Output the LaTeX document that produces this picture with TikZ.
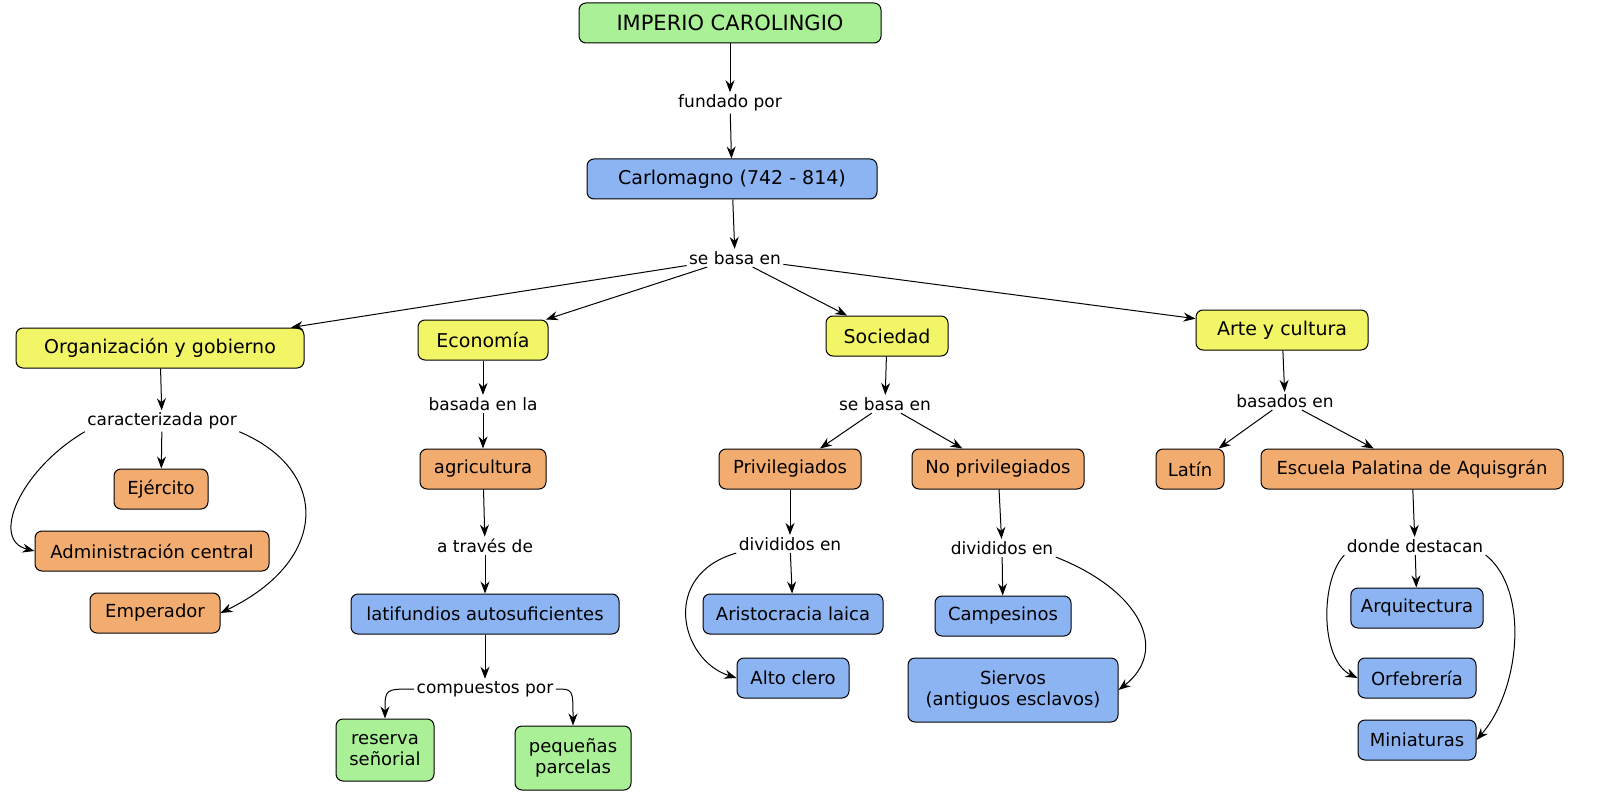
\documentclass[tikz,border=0pt]{standalone}
\usepackage{fontspec}
\setmainfont{DejaVu Sans}
\usetikzlibrary{arrows.meta}
\definecolor{cgreen}{RGB}{170,240,150}
\definecolor{cyellow}{RGB}{242,245,102}
\definecolor{corange}{RGB}{242,172,112}
\definecolor{cblue}{RGB}{140,180,242}
\tikzset{every picture/.style={line width=1pt},
  box/.style={draw, rounded corners=7pt, minimum height=40pt, inner xsep=10pt, font=\fontsize{18}{21}\selectfont, align=center},
  gbox/.style={box, fill=cgreen},
  ybox/.style={box, fill=cyellow},
  obox/.style={box, fill=corange},
  bbox/.style={box, fill=cblue},
  lbl/.style={inner sep=2pt, fill=white, font=\fontsize{17}{20}\selectfont},
  arr/.style={-{Stealth[length=12pt,width=9pt]}}}
\begin{document}
\begin{tikzpicture}[x=1pt,y=-1pt]
\useasboundingbox (0,0) rectangle (1600,810);
% top
\node[gbox, minimum width=302pt, font=\fontsize{21}{24}\selectfont] (title) at (730,23) {IMPERIO CAROLINGIO};
\node[lbl] (fundado) at (730,103) {fundado por};
\node[bbox, minimum width=290pt, font=\fontsize{19}{22}\selectfont] (carlo) at (732,179) {Carlomagno (742 - 814)};
\node[lbl] (basa) at (735,258) {se basa en};
% branches
\node[ybox, minimum width=288pt, font=\fontsize{19}{22}\selectfont] (org) at (160,348) {Organización y gobierno};
\node[ybox, minimum width=130pt, font=\fontsize{19}{22}\selectfont] (eco) at (483,340) {Economía};
\node[ybox, minimum width=122pt, font=\fontsize{19}{22}\selectfont] (soc) at (887,336) {Sociedad};
\node[ybox, minimum width=172pt, font=\fontsize{19}{22}\selectfont] (arte) at (1282,330) {Arte y cultura};
% organizacion
\node[lbl] (caract) at (162,421) {caracterizada por};
\node[obox, minimum width=94pt] (ejer) at (161,489) {Ejército};
\node[obox, minimum width=234pt] (admin) at (152,551) {Administración central};
\node[obox, minimum width=130pt] (emp) at (155,613) {Emperador};
% economia
\node[lbl] (basada) at (483,404) {basada en la};
\node[obox, minimum width=126pt] (agri) at (483,469) {agricultura};
\node[lbl] (traves) at (485,546) {a través de};
\node[bbox, minimum width=268pt] (lati) at (485,614) {latifundios autosuficientes};
\node[lbl] (comp) at (485,689) {compuestos por};
\node[gbox, minimum width=98pt, minimum height=62pt] (reserva) at (385,750) {reserva\\señorial};
\node[gbox, minimum width=116pt, minimum height=64pt] (peq) at (573,758) {pequeñas\\parcelas};
% sociedad
\node[lbl] (basa2) at (885,404) {se basa en};
\node[obox, minimum width=142pt] (priv) at (790,469) {Privilegiados};
\node[obox, minimum width=172pt] (nopriv) at (998,469) {No privilegiados};
\node[lbl] (div1) at (790,544) {divididos en};
\node[bbox, minimum width=180pt] (arist) at (793,614) {Aristocracia laica};
\node[bbox, minimum width=112pt] (alto) at (793,678) {Alto clero};
\node[lbl] (div2) at (1002,548) {divididos en};
\node[bbox, minimum width=136pt] (camp) at (1003,616) {Campesinos};
\node[bbox, minimum width=210pt, minimum height=64pt] (siervos) at (1013,690) {Siervos\\(antiguos esclavos)};
% arte
\node[lbl] (basados) at (1285,401) {basados en};
\node[obox, minimum width=68pt] (latin) at (1190,469) {Latín};
\node[obox, minimum width=302pt] (escuela) at (1412,469) {Escuela Palatina de Aquisgrán};
\node[lbl] (donde) at (1415,546) {donde destacan};
\node[bbox, minimum width=132pt] (arqui) at (1417,608) {Arquitectura};
\node[bbox, minimum width=118pt] (orfe) at (1417,678) {Orfebrería};
\node[bbox, minimum width=118pt] (mini) at (1417,740) {Miniaturas};
% connectors
\draw[arr] (title) -- (fundado);
\draw[arr] (fundado) -- (carlo);
\draw[arr] (carlo) -- (basa);
\draw[arr] (basa) -- (org);
\draw[arr] (basa) -- (eco);
\draw[arr] (basa) -- (soc);
\draw[arr] (basa) -- (arte);
\draw[arr] (org) -- (caract);
\draw[arr] (caract) -- (ejer);
\draw[arr] (caract.south west) .. controls (20,470) and (-10,540) .. (admin.west);
\draw[arr] (caract.south east) .. controls (330,470) and (330,560) .. (emp.east);
\draw[arr] (eco) -- (basada);
\draw[arr] (basada) -- (agri);
\draw[arr] (agri) -- (traves);
\draw[arr] (traves) -- (lati);
\draw[arr] (lati) -- (comp);
\draw[arr] (comp.west) .. controls (385,689) .. (reserva.north);
\draw[arr] (comp.east) .. controls (573,689) .. (peq.north);
\draw[arr] (soc) -- (basa2);
\draw[arr] (basa2) -- (priv);
\draw[arr] (basa2) -- (nopriv);
\draw[arr] (priv) -- (div1);
\draw[arr] (div1) -- (arist);
\draw[arr] (div1.south west) .. controls (660,575) and (680,660) .. (alto.west);
\draw[arr] (nopriv) -- (div2);
\draw[arr] (div2) -- (camp);
\draw[arr] (div2.south east) .. controls (1140,590) and (1170,650) .. (siervos.east);
\draw[arr] (arte) -- (basados);
\draw[arr] (basados) -- (latin);
\draw[arr] (basados) -- (escuela);
\draw[arr] (escuela) -- (donde);
\draw[arr] (donde) -- (arqui);
\draw[arr] (donde.south west) .. controls (1320,580) and (1320,660) .. (orfe.west);
\draw[arr] (donde.south east) .. controls (1530,590) and (1520,690) .. (mini.east);
\end{tikzpicture}
\end{document}
